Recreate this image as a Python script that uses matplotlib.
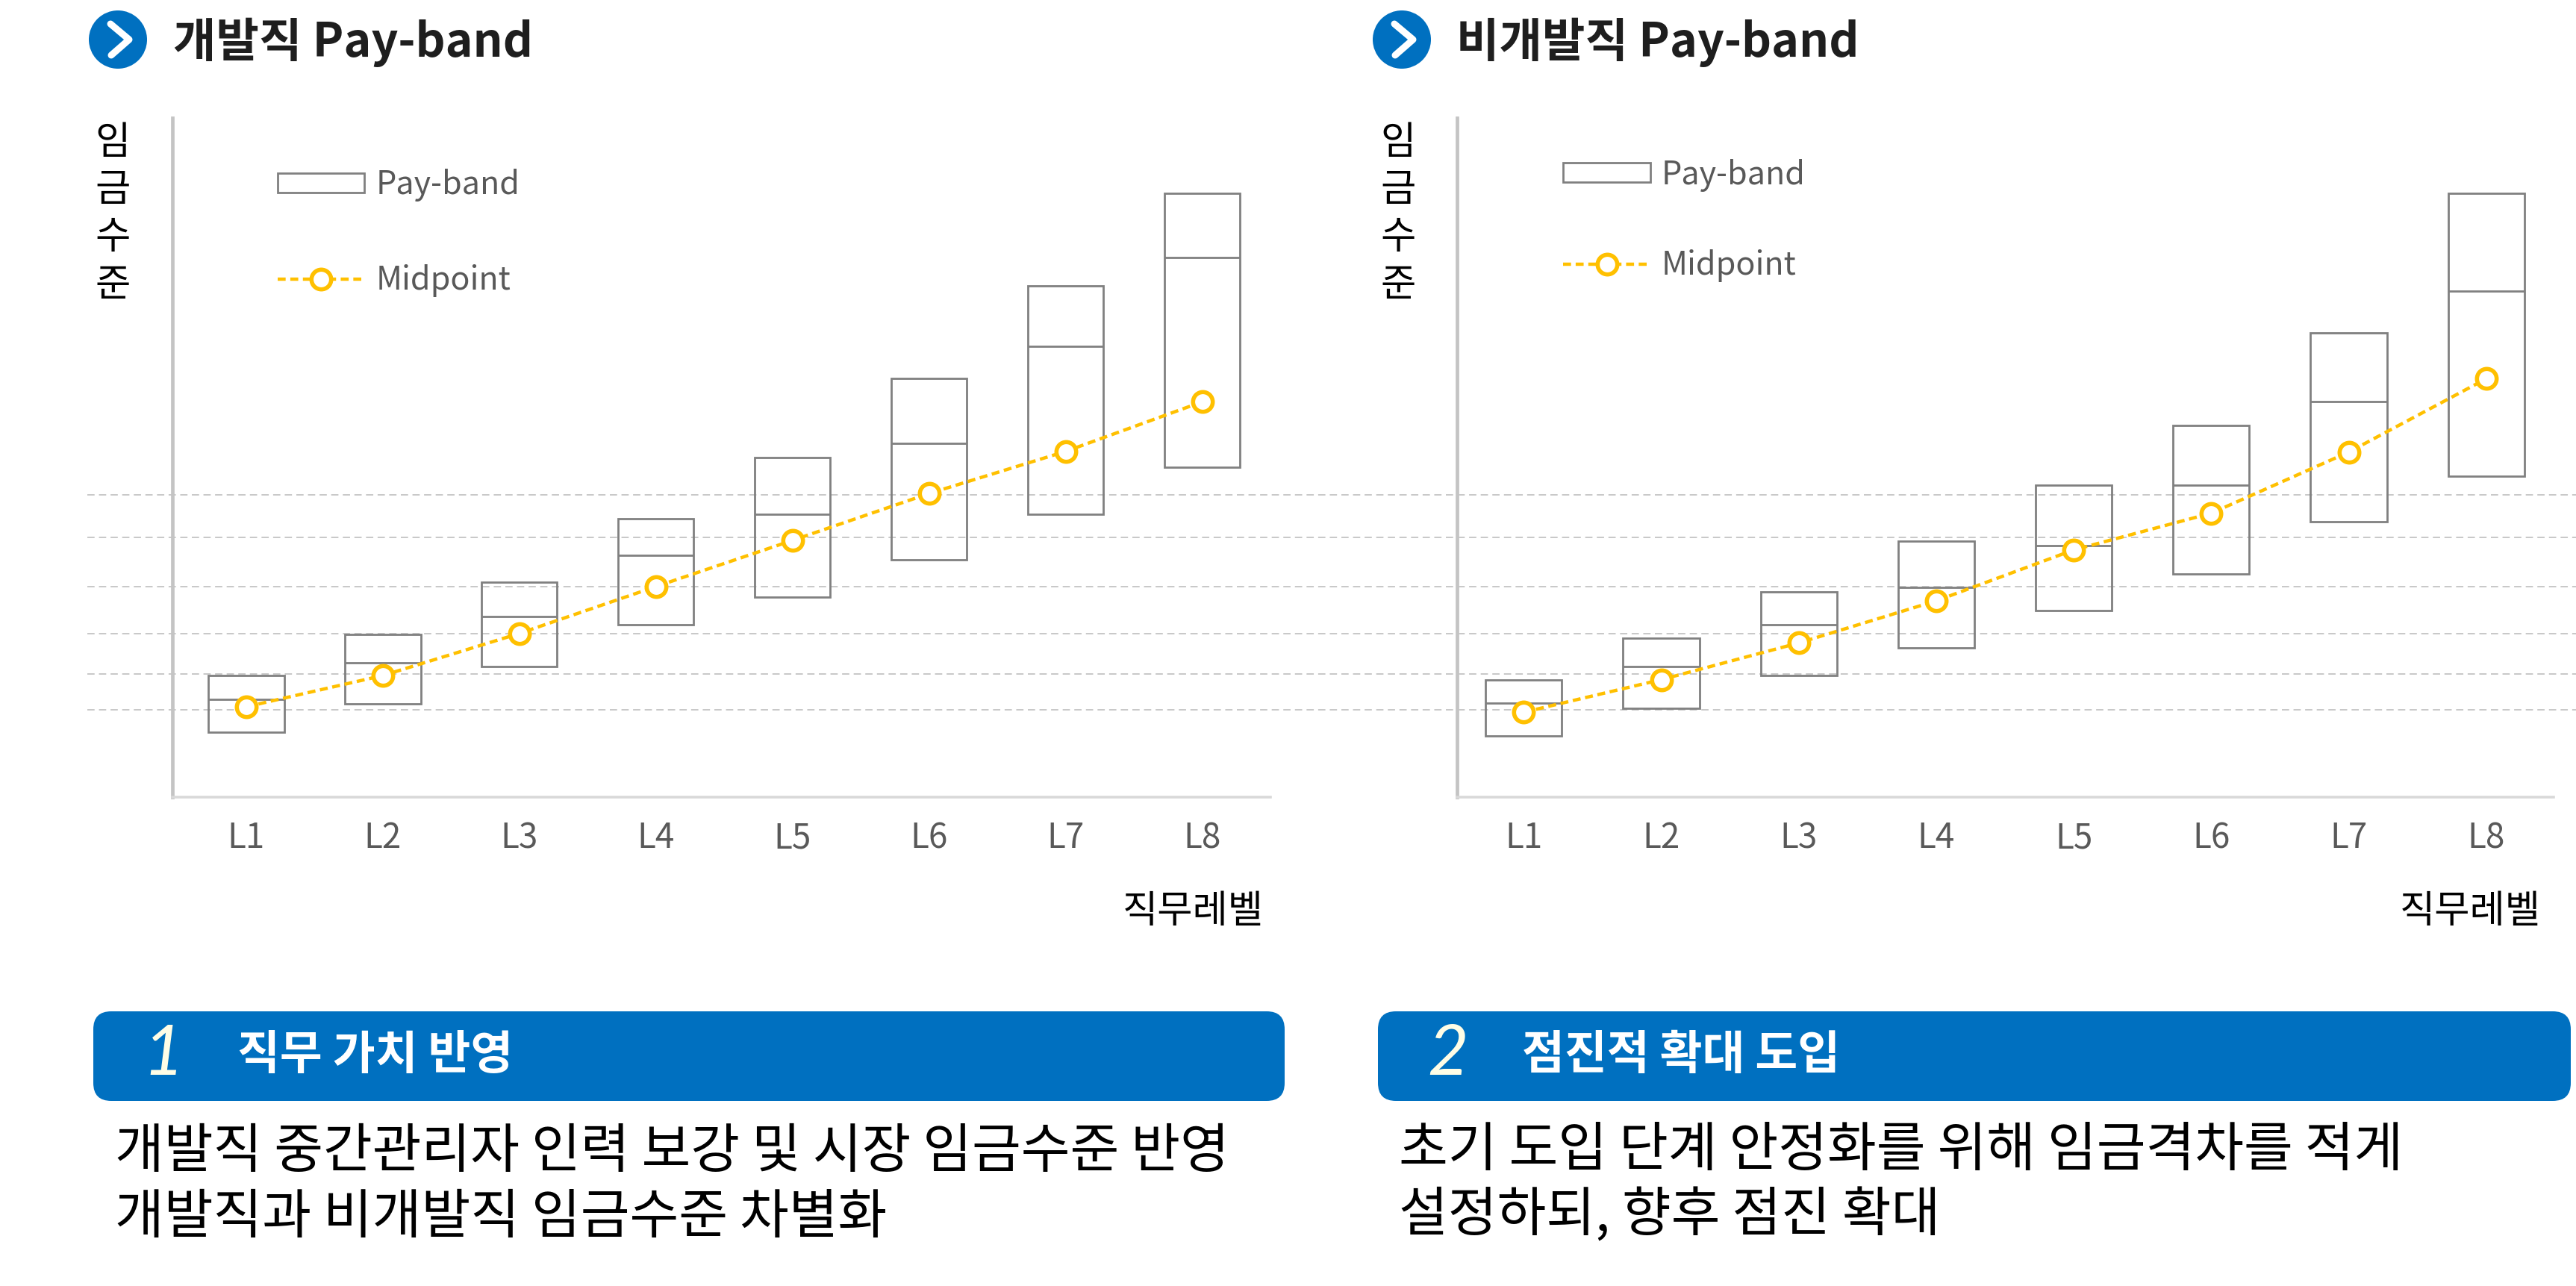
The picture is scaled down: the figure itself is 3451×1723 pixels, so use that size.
"""
Pay-band comparison: developer vs non-developer job levels.
"""

import numpy as np
import matplotlib
matplotlib.use("Agg")
import matplotlib.pyplot as plt
from matplotlib import transforms
from matplotlib.lines import Line2D
from matplotlib.patches import Circle, FancyBboxPatch, Patch

plt.rcParams["font.family"] = ["Noto Sans CJK KR", "DejaVu Sans"]

# ---- data (relative wage level, 0-100) ----
levels = ["L1", "L2", "L3", "L4", "L5", "L6", "L7", "L8"]

dev_low = [9.6, 13.7, 19.2, 25.4, 29.5, 34.9, 41.7, 48.6]
dev_mid = [14.4, 19.8, 26.6, 35.6, 41.7, 52.1, 66.4, 79.4]
dev_high = [17.9, 24.0, 31.6, 41.0, 50.0, 61.7, 75.3, 88.9]
dev_midpoint = [13.3, 17.9, 24.1, 31.0, 37.8, 44.7, 50.9, 58.2]

nondev_low = [9.0, 13.1, 17.9, 22.0, 27.5, 32.9, 40.5, 47.2]
nondev_mid = [13.9, 19.2, 25.4, 30.9, 37.0, 45.9, 58.2, 74.5]
nondev_high = [17.3, 23.4, 30.2, 37.7, 45.9, 54.7, 68.3, 88.9]
nondev_midpoint = [12.5, 17.3, 22.7, 28.9, 36.4, 41.8, 50.8, 61.6]

guide_levels = [12.9, 18.1, 24.1, 31.0, 38.2, 44.5]

titles = ["개발직 Pay-band", "비개발직 Pay-band"]
y_label = "임금수준"
x_label = "직무레벨"
box_numbers = ["1", "2"]
box_titles = ["직무 가치 반영", "점진적 확대 도입"]
box_lines = [
    ["개발직 중간관리자 인력 보강 및 시장 임금수준 반영",
     "개발직과 비개발직 임금수준 차별화"],
    ["초기 도입 단계 안정화를 위해 임금격차를 적게",
     "설정하되, 향후 점진 확대"],
]

BLUE = "#0070C0"
GOLD = "#FFC000"
BOX_GRAY = "#808080"
TEXT_GRAY = "#595959"

W, H = 3451, 1723
fig = plt.figure(figsize=(W / 100, H / 100), dpi=100)

# pixel-space layer for headers, gridlines and the bottom boxes
bg = fig.add_axes([0, 0, 1, 1], zorder=0)
bg.set_xlim(0, W)
bg.set_ylim(H, 0)
bg.axis("off")


def draw_panel(ax, low, mid, high, midpoint, xlim, legend_anchor,
               legend_spacing, xlabel_x):
    x = np.arange(1, len(levels) + 1)
    low = np.array(low)
    high = np.array(high)
    width = 0.555

    ax.bar(x, high - low, bottom=low, width=width, facecolor="none",
           edgecolor=BOX_GRAY, linewidth=2.0, zorder=2)
    ax.hlines(mid, x - width / 2, x + width / 2, color=BOX_GRAY,
              linewidth=2.0, zorder=2)
    ax.plot(x, midpoint, color=GOLD, linewidth=3.2, linestyle=(0, (2.4, 1.4)),
            marker="o", markersize=19, markerfacecolor="white",
            markeredgecolor=GOLD, markeredgewidth=4, zorder=3)

    ax.set_xlim(*xlim)
    ax.set_ylim(0, 100)
    ax.set_facecolor("none")
    ax.set_xticks(x, levels)
    ax.set_yticks([])
    ax.tick_params(axis="x", length=0, pad=22, labelsize=33,
                   labelcolor=TEXT_GRAY)
    for side in ["top", "right"]:
        ax.spines[side].set_visible(False)
    ax.spines["left"].set_color("#C4C4C4")
    ax.spines["left"].set_linewidth(3.4)
    ax.spines["bottom"].set_color("#D9D9D9")
    ax.spines["bottom"].set_linewidth(2.6)

    ax.text(xlabel_x, -0.168, x_label, transform=ax.transAxes, ha="right",
            va="center", fontsize=37, color="black")

    handles = [
        Patch(facecolor="white", edgecolor=BOX_GRAY, linewidth=2.0,
              label="Pay-band"),
        Line2D([0], [0], color=GOLD, linewidth=3.2, linestyle=(0, (2.4, 1.4)),
               marker="o", markersize=19, markerfacecolor="white",
               markeredgecolor=GOLD, markeredgewidth=4, label="Midpoint"),
    ]
    ax.legend(handles=handles, loc="upper left", bbox_to_anchor=legend_anchor,
              frameon=False, fontsize=31, labelcolor=TEXT_GRAY,
              handlelength=2.7, handleheight=0.55, handletextpad=0.35,
              labelspacing=legend_spacing, borderpad=0, borderaxespad=0,
              numpoints=1)


ax_dev = fig.add_axes([231 / W, 1 - 1068 / H, 1471 / W, 910 / H], zorder=1)
ax_nondev = fig.add_axes([1952 / W, 1 - 1068 / H, 1469 / W, 910 / H], zorder=1)

draw_panel(ax_dev, dev_low, dev_mid, dev_high, dev_midpoint,
           (0.46, 8.5), (0.096, 0.925), 1.95, 0.994)
draw_panel(ax_nondev, nondev_low, nondev_mid, nondev_high, nondev_midpoint,
           (0.515, 8.49), (0.097, 0.94), 1.8, 0.988)

# dashed guide lines run across the whole figure
grid_tf = transforms.blended_transform_factory(bg.transData, ax_dev.transData)
for g in guide_levels:
    bg.plot([117, W], [g, g], transform=grid_tf, color="#C8C8C8",
            linewidth=1.4, linestyle=(0, (5, 3)), clip_on=False, zorder=0)

# headers
for cx, tx, title in [(158, 232, titles[0]), (1878, 1951, titles[1])]:
    bg.add_patch(Circle((cx, 53), 39, facecolor=BLUE, edgecolor="none"))
    bg.plot([cx - 10, cx + 15, cx - 9], [32, 53, 74], color="white",
            linewidth=6.5, solid_capstyle="round", solid_joinstyle="round")
    bg.text(tx, 57, title, ha="left", va="center", fontsize=45,
            fontweight="bold", color="#1E1E1E")

# vertical y labels
for lx in [151, 1873]:
    bg.text(lx, 164, "\n".join(y_label), ha="center", va="top", fontsize=37,
            linespacing=1.25, color="black")

# bottom blue boxes
for i, (bx, bw) in enumerate([(125, 1596), (1846, 1598)]):
    bg.add_patch(FancyBboxPatch((bx, 1355), bw, 120,
                                boxstyle="round,pad=0,rounding_size=24",
                                facecolor=BLUE, edgecolor="none"))
    bg.text(bx + 66, 1414, box_numbers[i], ha="left", va="center",
            fontsize=68, fontstyle="italic",
            family=["Lato", "DejaVu Sans"], color="#FFFDE6")
    bg.text(bx + 193, 1414, box_titles[i], ha="left", va="center",
            fontsize=44.5, fontweight="bold", color="white")
    for j, line in enumerate(box_lines[i]):
        bg.text(bx + 29 - i, 1544 + 87 * j - 2 * i, line, ha="left",
                va="center", fontsize=51.5, color="black")

fig.savefig("out.png", dpi=100)
plt.close(fig)
